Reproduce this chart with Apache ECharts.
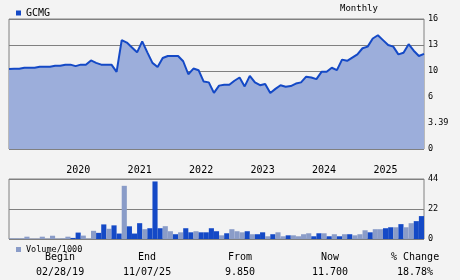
<!DOCTYPE html>
<html>
<head>
<meta charset="utf-8">
<script src="https://cdn.jsdelivr.net/npm/echarts@6/dist/echarts.min.js"></script>
<style>
html,body{margin:0;padding:0;background:#f3f3f3;}
#c{width:460px;height:280px;}
</style>
</head>
<body>
<div id="c"></div>
<script>
// ---- data ----
const ticker = 'GCMG';
const priceTickLabels = ['0', '3.39', '6', '10', '13', '16'];
const volTickLabels = ['0', '22', '44'];
const yearLabels = ['2020', '2021', '2022', '2023', '2024', '2025'];
const yearAt = [13, 25, 37, 49, 61, 73];   // month index where each year label sits

// monthly closing prices (month index 0..81)
const price = [
  9.85, 9.88, 9.88, 10.0, 10.0, 10.0, 10.13, 10.13, 10.13, 10.25,
  10.25, 10.38, 10.38, 10.2, 10.38, 10.38, 10.9, 10.6, 10.38, 10.38,
  10.38, 9.5, 13.4, 13.1, 12.5, 11.9, 13.25, 11.9, 10.6, 10.1,
  11.2, 11.45, 11.45, 11.45, 10.8, 9.2, 9.9, 9.7, 8.3, 8.2,
  6.9, 7.8, 7.9, 7.9, 8.4, 8.8, 7.7, 9.0, 8.2, 7.85,
  8.0, 6.9, 7.4, 7.85, 7.67, 7.75, 8.05, 8.2, 8.9, 8.8,
  8.6, 9.5, 9.5, 10.0, 9.7, 11.0, 10.85, 11.25, 11.65, 12.4,
  12.6, 13.6, 14.0, 13.4, 12.8, 12.6, 11.65, 11.85, 12.9, 12.1,
  11.45, 11.7
];

// monthly volume / 1000
const volume = [
  0.5, 0.5, 0.5, 1.7, 0.3, 0.3, 1.7, 0.3, 2.4, 0.3,
  0.5, 1.7, 0.8, 4.7, 2.5, 0.3, 6.0, 4.5, 10.7, 7.5,
  10.0, 4.0, 39.0, 9.3, 4.0, 11.6, 7.2, 7.9, 42.2, 7.9,
  9.4, 5.7, 3.5, 4.9, 7.9, 4.9, 5.7, 4.9, 4.9, 7.9,
  5.7, 2.7, 4.2, 7.2, 5.7, 4.9, 5.7, 3.5, 3.5, 4.9,
  2.0, 3.5, 4.9, 2.0, 2.7, 2.7, 2.0, 3.5, 4.2, 2.0,
  4.2, 4.2, 2.0, 3.5, 2.0, 3.5, 3.5, 2.7, 3.5, 6.4,
  4.9, 7.2, 7.2, 7.9, 8.6, 8.6, 10.9, 8.6, 11.6, 13.1,
  16.8
];
// 1 = up month (dark bar), 0 = down month (light bar)
const volUp = [
  0,0,0,0,0,0,0,0,0,0,
  0,0,1,1,0,0,0,1,1,0,
  1,1,0,1,1,1,0,1,1,1,
  0,0,1,0,1,1,0,1,1,1,
  1,0,1,0,0,0,1,0,1,1,
  0,1,0,0,1,0,0,0,0,1,
  1,0,1,0,1,0,1,0,0,0,
  1,0,0,1,1,0,1,0,0,1,
  1
];

const statHeads = ['Begin', 'End', 'From', 'Now', '% Change'];
const statValues = ['02/28/19', '11/07/25', '9.850', '11.700', '18.78%'];

// ---- chart ----
const FONT = 'DejaVu Sans Mono';
const DARK = '#1449c6', LIGHT = '#8a9cc8', AREA = '#9caedb', GRIDC = '#808080';
const months = volume.map((v, i) => {
  const k = yearAt.indexOf(i);
  return k >= 0 ? yearLabels[k] : 'm' + i;
});
const statX = [60, 147, 240, 330, 415];
const CH = 6.02; // glyph advance of 10px DejaVu Sans Mono

function statTitle(text, cx, top) {
  return {text: text, left: Math.round(cx - text.length * CH / 2), top: top, padding: 0, itemGap: 0,
          textStyle: {fontFamily: FONT, fontSize: 10, fontWeight: 'normal', color: '#000'}};
}

const chart = echarts.init(document.getElementById('c'));

chart.setOption({
  backgroundColor: '#f3f3f3',
  animation: false,
  title: [
    {text: 'Monthly', left: 340, top: 4, padding: 0,
     textStyle: {fontFamily: FONT, fontSize: 9, fontWeight: 'normal', color: '#000'}}
  ].concat(statHeads.map((h, i) => statTitle(h, statX[i], 252)))
   .concat(statValues.map((v, i) => statTitle(v, statX[i], 267))),
  legend: [
    {data: [ticker], left: 11, top: 3, icon: 'rect', itemWidth: 5, itemHeight: 5,
     textStyle: {fontFamily: FONT, fontSize: 10, color: '#000'}},
    {data: ['Volume/1000'], left: 11, top: 240, icon: 'rect', itemWidth: 5, itemHeight: 5,
     textStyle: {fontFamily: FONT, fontSize: 8.5, color: '#000'}}
  ],
  grid: [
    {left: 9, top: 19, width: 415, height: 130, show: true, borderColor: GRIDC, borderWidth: 1, backgroundColor: 'transparent'},
    {left: 9, top: 179, width: 415, height: 60, show: true, borderColor: GRIDC, borderWidth: 1, backgroundColor: 'transparent'}
  ],
  xAxis: [
    {gridIndex: 0, type: 'value', min: 0, max: volume.length,
     axisLine: {show: false}, axisTick: {show: false}, splitLine: {show: false}, axisLabel: {show: false}},
    {gridIndex: 1, type: 'category', data: months, boundaryGap: true, position: 'top',
     axisLine: {show: false}, axisTick: {show: false}, splitLine: {show: false},
     axisLabel: {show: true, margin: 4, fontFamily: FONT, fontSize: 10, color: '#000',
       interval: i => yearAt.indexOf(i) >= 0}}
  ],
  yAxis: [
    {gridIndex: 0, type: 'value', position: 'right', min: 0, max: 16, interval: 3.2,
     axisLine: {show: false}, axisTick: {show: false},
     splitLine: {show: true, lineStyle: {color: GRIDC, width: 1}},
     axisLabel: {margin: 4, fontFamily: FONT, fontSize: 8.5, color: '#000', padding: [5, 0, 0, 0],
       formatter: (v, i) => priceTickLabels[i] !== undefined ? priceTickLabels[i] : ''}},
    {gridIndex: 1, type: 'value', position: 'right', min: 0, max: 44, interval: 22,
     axisLine: {show: false}, axisTick: {show: false},
     splitLine: {show: true, lineStyle: {color: GRIDC, width: 1}},
     axisLabel: {margin: 4, fontFamily: FONT, fontSize: 8.5, color: '#000', padding: [5, 0, 0, 0],
       formatter: (v, i) => volTickLabels[i] !== undefined ? volTickLabels[i] : ''}}
  ],
  series: [
    {name: ticker, type: 'line', xAxisIndex: 0, yAxisIndex: 0,
     data: price.map((v, i) => [i, v]), symbol: 'none', smooth: false,
     color: DARK, lineStyle: {color: DARK, width: 2},
     areaStyle: {color: AREA, opacity: 1}},
    {name: 'Volume/1000', type: 'bar', xAxisIndex: 1, yAxisIndex: 1,
     barCategoryGap: '0%', barGap: '0%',
     itemStyle: {color: LIGHT},
     data: volume.map((v, i) => ({value: v, itemStyle: {color: volUp[i] ? DARK : LIGHT}}))}
  ]
});
</script>
</body>
</html>
